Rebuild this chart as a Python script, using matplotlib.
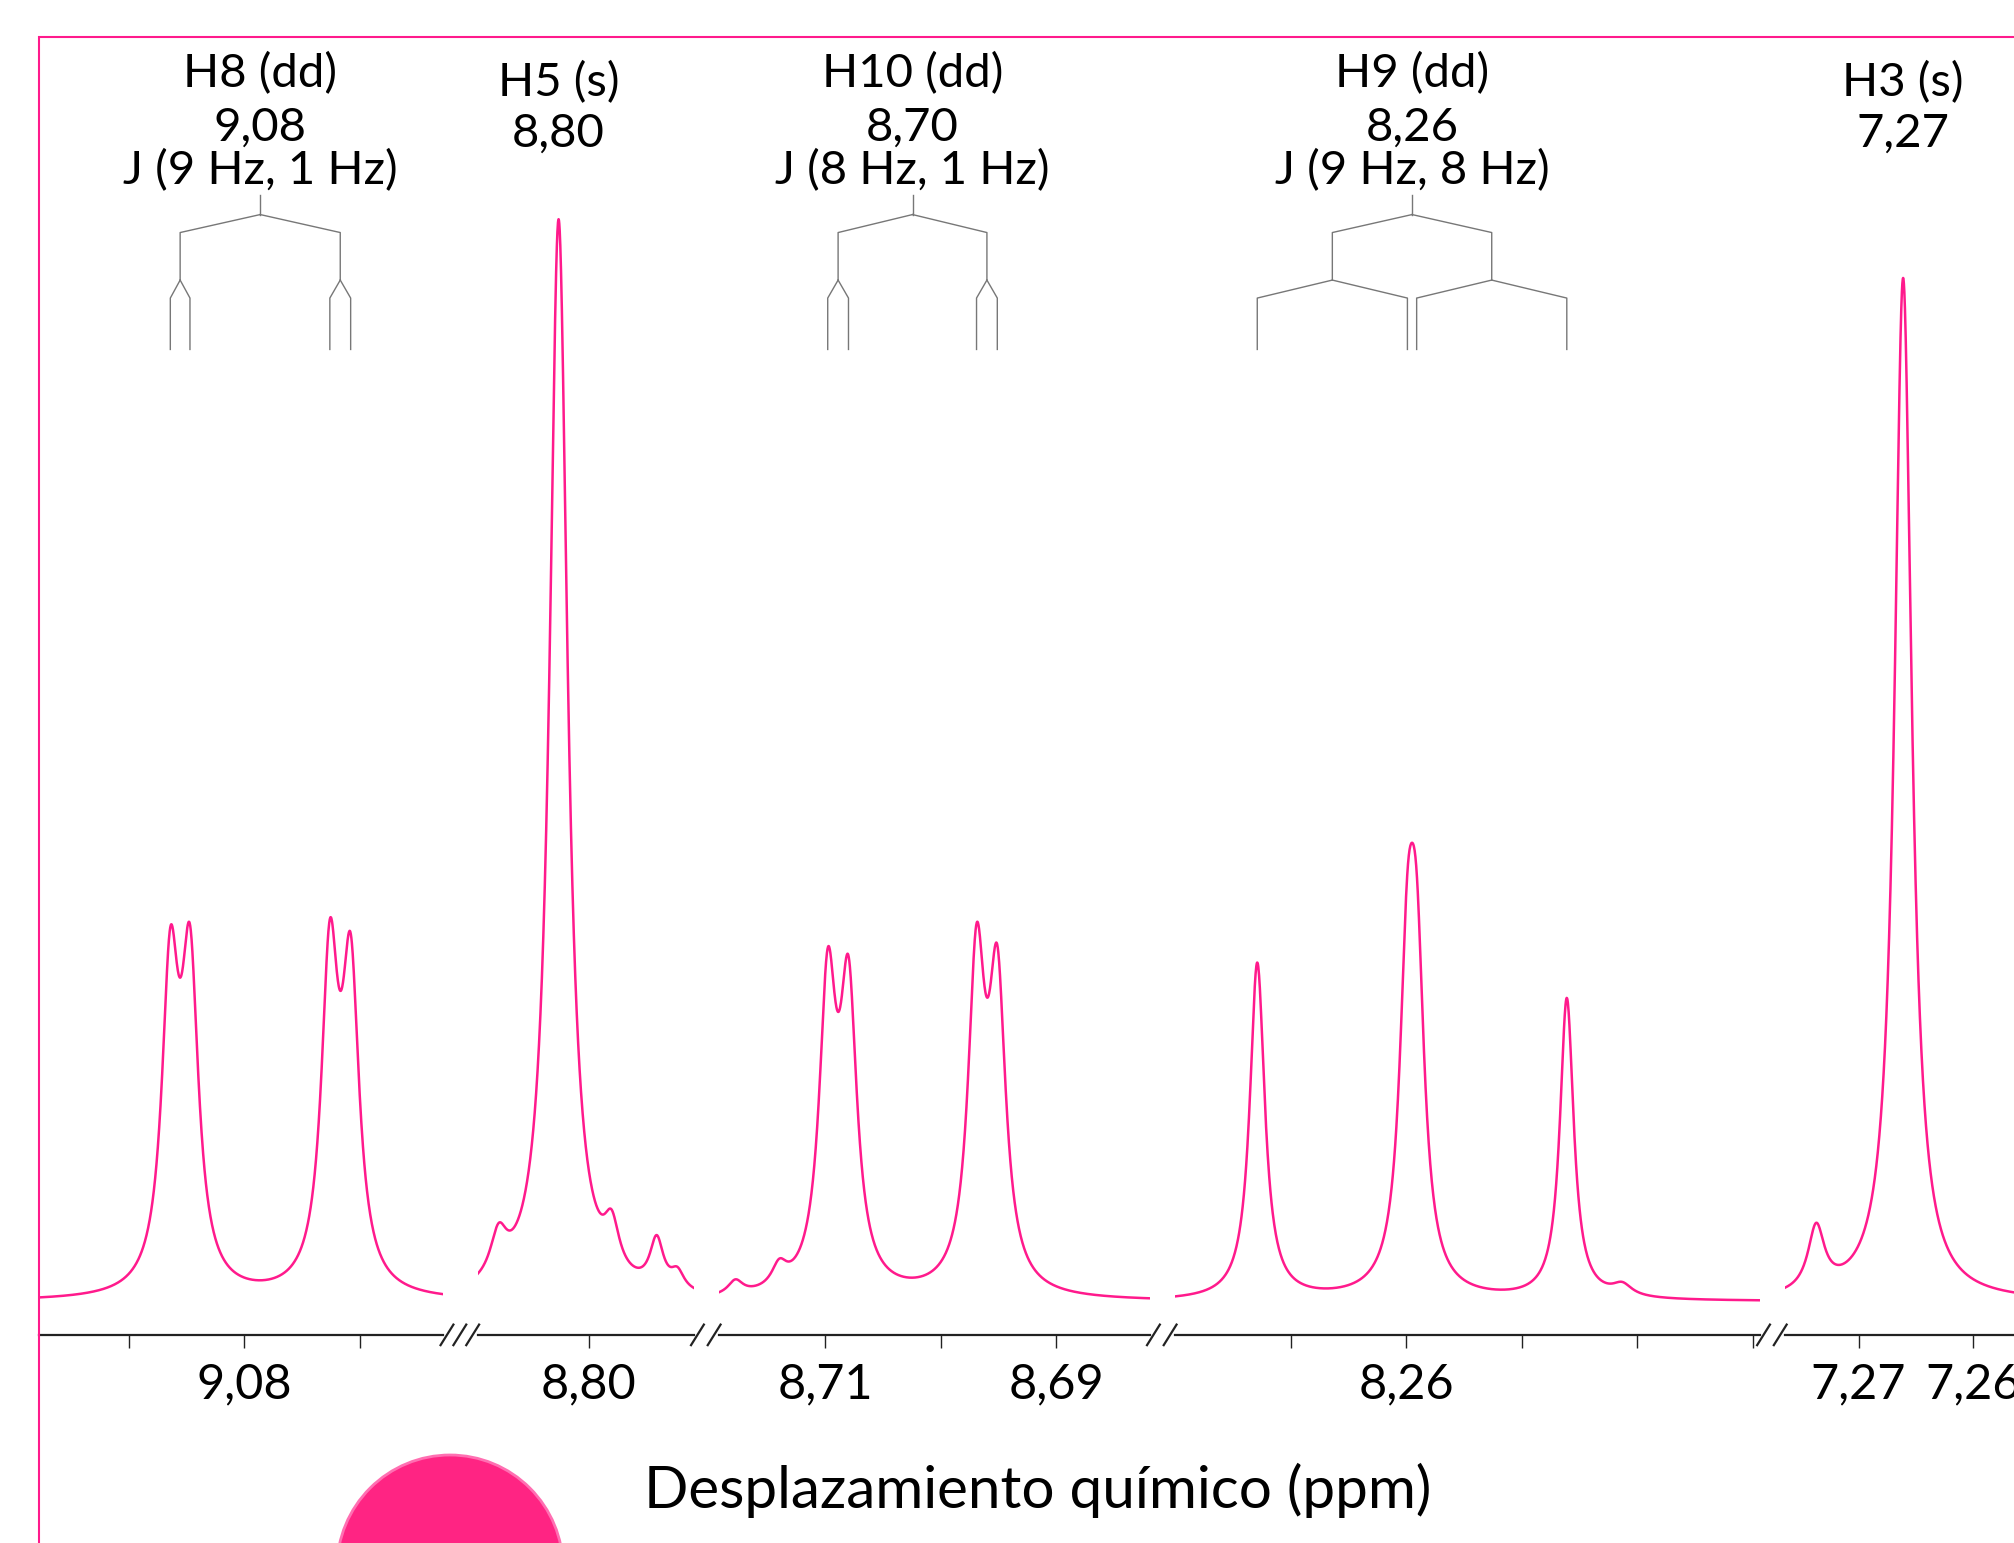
import numpy as np
import matplotlib.pyplot as plt
from matplotlib.patches import Rectangle, Ellipse
from matplotlib.lines import Line2D

plt.rcParams['font.family'] = ['Lato', 'DejaVu Sans']

PINK = '#ff1a8c'

# signals: name, multiplicity, label, couplings (Hz)
sig_name = ['H8', 'H5', 'H10', 'H9', 'H3']
sig_mult = ['dd', 's', 'dd', 'dd', 's']
sig_label = ['9,08', '8,80', '8,70', '8,26', '7,27']
sig_J = [[9, 1], [], [8, 1], [9, 8], []]
sig_seg = [0, 1, 2, 3, 4]
# lines of each signal (ppm, left to right), their intensity and half width (ppm)
sig_lines = [[9.0864, 9.0847, 9.0726, 9.0708], [8.8026], [8.7098, 8.7080, 8.6969, 8.6951],
             [8.2729, 8.2599, 8.2591, 8.2461], [7.2661]]
line_height = [[238, 240, 249, 236], [840], [229, 221, 247, 227], [262, 219, 219, 234], [796]]
line_hwhm = [[0.00089] * 4, [0.00094], [0.00089] * 4, [0.00078, 0.00083, 0.00083, 0.00072], [0.00091]]

# small extra lines (shoulders, satellites)
minor_ppm = [8.8078, 8.7980, 8.7941, 8.7923, 8.7178, 8.7140, 8.2413, 7.2737]
minor_height = [34, 36, 38, 14, 11, 17, 9, 50]
minor_hwhm = [0.00087, 0.00079, 0.00071, 0.00071, 0.00079, 0.00079, 0.00102, 0.00087]

# broken x axis: ppm range of each piece and its ticks
seg_ppm = [(9.0978, 9.0628), (8.8096, 8.7909), (8.7192, 8.6819), (8.2800, 8.2294), (7.2764, 7.2564)]
seg_ticks = [[9.09, 9.08, 9.07], [8.80], [8.71, 8.70, 8.69], [8.27, 8.26, 8.25, 8.24, 8.23], [7.27, 7.26]]
seg_ticklabels = [['', '9,08', ''], ['8,80'], ['8,71', '', '8,69'], ['', '8,26', '', '', ''], ['7,27', '7,26']]

# layout (reference pixel columns of each piece, on a 1568 px wide canvas)
seg_px = [(30, 345), (372, 540), (560, 895), (915, 1370), (1390, 1568)]
W = 1568.0
ax_bottom = 1 - 1039 / 1201.0
ax_top = 1 - 29 / 1201.0
YLIM = (-26, 984)
tree_y = [861, 846, 832, 795, 781, 741]

all_pos = sum(sig_lines, []) + minor_ppm
all_h = sum(line_height, []) + minor_height
all_w = sum(line_hwhm, []) + minor_hwhm


def spectrum(ppm):
    y = np.zeros_like(ppm)
    for p, h, g in zip(all_pos, all_h, all_w):
        y += h / (1 + ((ppm - p) / g) ** 2)
    return y


fig = plt.figure(figsize=(20.14, 15.43), dpi=100)

axes = []
for (lo, hi), (x0, x1), ticks, labels in zip(seg_ppm, seg_px, seg_ticks, seg_ticklabels):
    ax = fig.add_axes([x0 / W, ax_bottom, (x1 - x0) / W, ax_top - ax_bottom])
    ax.patch.set_visible(False)
    ppm = np.linspace(lo, hi, 1500)
    ax.plot(ppm, spectrum(ppm), color=PINK, lw=1.8)
    ax.set_xlim(lo, hi)
    ax.set_ylim(*YLIM)
    for s in ['top', 'left', 'right']:
        ax.spines[s].set_visible(False)
    ax.spines['bottom'].set_linewidth(1.6)
    ax.spines['bottom'].set_color('#222222')
    ax.set_yticks([])
    ax.set_xticks(ticks)
    ax.set_xticklabels(labels)
    ax.tick_params(axis='x', direction='out', length=9, width=1.0, color='#222222',
                   labelsize=35, pad=11)
    axes.append(ax)

# break marks between the pieces
for (a0, a1), (b0, b1) in zip(seg_px[:-1], seg_px[1:]):
    n = 3 if b0 - a1 > 20 else 2
    for xm in np.linspace(a1 + 3, b0 - 4, n):
        xf = xm / W
        fig.add_artist(Line2D([xf - 5 / W, xf + 5 / W], [ax_bottom - 8 / 1201, ax_bottom + 8 / 1201],
                              color='#222222', lw=1.6, transform=fig.transFigure))

# labels and splitting trees
FS = 34
kw = dict(color='#777777', lw=1.0)
for name, mult, lab, J, lines, si in zip(sig_name, sig_mult, sig_label, sig_J, sig_lines, sig_seg):
    ax = axes[si]
    c = np.mean(lines)
    if mult == 's':
        ax.text(c, 949, f'{name} ({mult})', ha='center', va='center', fontsize=FS)
        ax.text(c, 909, lab, ha='center', va='center', fontsize=FS)
        continue
    ax.text(c, 956, f'{name} ({mult})', ha='center', va='center', fontsize=FS)
    ax.text(c, 914, lab, ha='center', va='center', fontsize=FS)
    ax.text(c, 880, f'J ({J[0]} Hz, {J[1]} Hz)', ha='center', va='center', fontsize=FS)
    ax.plot([c, c], [tree_y[0], tree_y[1]], **kw)
    for pair in (lines[:2], lines[2:]):
        b = np.mean(pair)
        ax.plot([c, b, b], [tree_y[1], tree_y[2], tree_y[3]], **kw)
        for leaf in pair:
            ax.plot([b, leaf, leaf], [tree_y[3], tree_y[4], tree_y[5]], **kw)

fig.text(808 / W, 1 - 1160 / 1201.0, 'Desplazamiento químico (ppm)', ha='center', va='center',
         fontsize=42)

# decorative frame and button
fig.add_artist(Rectangle((30 / W, -0.2), 2.0, ax_top + 0.2, fill=False, edgecolor=PINK, lw=1.5,
                         transform=fig.transFigure))
fig.add_artist(Ellipse((450 / 2014, 1 - 1568 / 1543), 226 / 2014, 226 / 1543, facecolor='#ff2483',
                       edgecolor='#ff6fb2', lw=2, transform=fig.transFigure))

fig.savefig('out.png', dpi=100)
